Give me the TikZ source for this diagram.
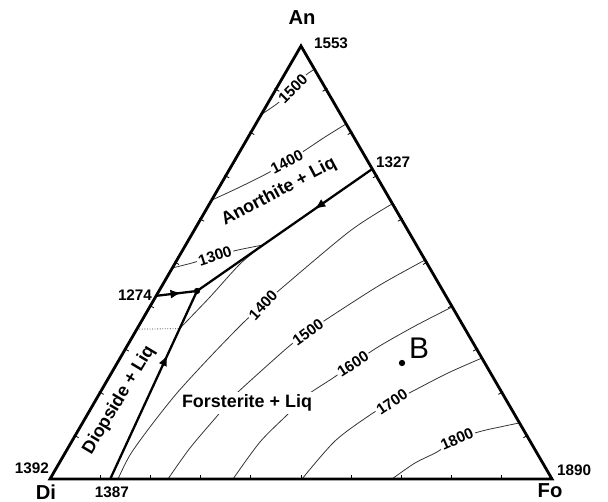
\documentclass[tikz,border=0pt]{standalone}
\usepackage{fontspec}
\setmainfont{Liberation Sans}
\usetikzlibrary{arrows.meta,calc,decorations.markings}

\begin{document}
\begin{tikzpicture}[
    x=0.02cm, y=-0.02cm,
    edge/.style={line width=1.6pt, line join=miter},
    bound/.style={line width=1.3pt},
    iso/.style={line width=0.45pt, black!80},
    tick/.style={line width=0.45pt},
    midarrow/.style={postaction={decorate}, decoration={markings, mark=at position #1 with {\arrow{Latex[length=2.2mm, width=1.8mm]}}}},
    temp/.style={font=\fontsize{8.7}{10}\selectfont\bfseries, inner sep=1pt},
    isolbl/.style={temp, fill=white},
    field/.style={font=\fontsize{10.2}{12}\selectfont\bfseries, inner sep=1.5pt},
    corner/.style={font=\fontsize{11.5}{13}\selectfont\bfseries}
]
\useasboundingbox (0,0) rectangle (608,502);

% corners of the triangle
\coordinate (An) at (301,46);
\coordinate (Di) at (50,479);
\coordinate (Fo) at (552,479);

% invariant and boundary points
\coordinate (T1327) at ($(An)!0.284!(Fo)$);
\coordinate (T1274) at ($(An)!0.577!(Di)$);
\coordinate (T1387) at ($(Di)!0.12!(Fo)$);
\coordinate (P) at (197,291);
\coordinate (D1) at ($(An)!0.654!(Di)$);
\coordinate (D2) at ($(T1387)!0.80!(P)$);

% isotherms
\draw[iso] plot[smooth] coordinates {(262,114) (278,103) (293,89) (306,75) (315,69)};
\draw[iso] plot[smooth] coordinates {(212,200) (240,187) (268,173) (287,162) (307,149) (325,137) (346,124)};
\draw[iso] plot[smooth] coordinates {(172,268) (192,263) (215,256) (238,250) (263,245)};
\draw[iso] plot[smooth] coordinates {(263,245) (240,264) (210,297) (D2)};
\draw[iso] plot[smooth] coordinates {(392,204) (350,231) (283,287) (263,305) (243,323) (210,357) (177,393) (150,427) (130,455) (118,479)};
\draw[iso] plot[smooth] coordinates {(425,260) (380,285) (330,317) (308,332) (287,348) (238,392) (228,403) (218,415) (190,448) (168,479)};
\draw[iso] plot[smooth] coordinates {(452,307) (415,326) (378,347) (353,364) (333,378) (310,393) (298,404) (287,415) (260,442) (233,479)};
\draw[iso] plot[smooth] coordinates {(482,358) (448,373) (415,390) (392,402) (370,415) (335,441) (302,479)};
\draw[iso] plot[smooth] coordinates {(519,423) (500,427) (482,431) (457,439) (437,452) (415,463) (392,479)};
\draw[iso, densely dotted] (D1) -- (D2);

% isotherm labels
\node[isolbl, rotate=45] (i1500a) at (293,89) {1500};
\node[isolbl, rotate=27] (i1400a) at (287,162) {1400};
\node[isolbl, rotate=18] (i1300a) at (215,256) {1300};
\node[isolbl, rotate=47] (i1400) at (263,305) {1400};
\node[isolbl, rotate=36] (i1500) at (308,332) {1500};
\node[isolbl, rotate=33] (i1600) at (353,364) {1600};
\node[isolbl, rotate=34] (i1700) at (392,402) {1700};
\node[isolbl, rotate=24] (i1800) at (457,439) {1800};

% field boundaries
\draw[bound, midarrow=0.33] (T1327) -- (P);
\draw[bound, midarrow=0.62] (T1274) -- (P);
\draw[bound, midarrow=0.66] (T1387) -- (P);
\fill (P) circle[radius=1.8pt];

% triangle and ticks
\draw[edge] (An) -- (Di) -- (Fo) -- cycle;
\foreach \i in {1,...,9} {
  \draw[tick] ($(Di)!\i/10!(Fo)$) ++(270:0.3mm) -- ++(90:1.1mm);
  \draw[tick] ($(Di)!\i/10!(An)$) ++(150:0.3mm) -- ++(-30:1.1mm);
  \draw[tick] ($(Fo)!\i/10!(An)$) ++(30:0.3mm) -- ++(210:1.1mm);
}

% field names
\node[field, rotate=28] (anliq) at (279,192) {Anorthite + Liq};
\node[field, rotate=59] (diliq) at (119,400) {Diopside + Liq};
\node[field, fill=white] (foliq) at (247,403) {Forsterite + Liq};

% corner names and temperatures
\node[corner] (lAn) at (302,18) {An};
\node[corner] (lDi) at (46,492) {Di};
\node[corner] (lFo) at (550,491) {Fo};
\node[temp] (t1553) at (331,43) {1553};
\node[temp] (t1327) at (393,162) {1327};
\node[temp] (t1274) at (135,295) {1274};
\node[temp] (t1392) at (32,468) {1392};
\node[temp] (t1387) at (112,492) {1387};
\node[temp] (t1890) at (574,470) {1890};

% bulk composition B
\fill (402,363) coordinate (B) circle[radius=1.8pt];
\node[font=\fontsize{17}{20}\selectfont] (lB) at (419,348) {B};
\end{tikzpicture}
\end{document}
